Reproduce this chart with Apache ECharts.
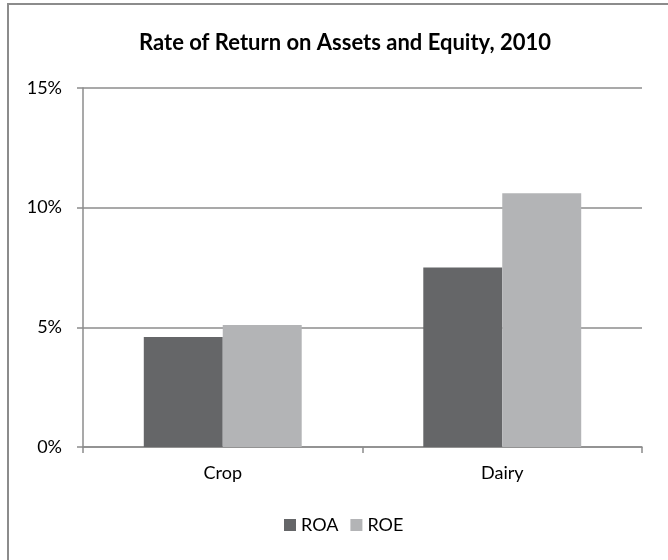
<!DOCTYPE html>
<html>
<head>
<meta charset="utf-8">
<script src="https://cdn.jsdelivr.net/npm/echarts@6/dist/echarts.min.js"></script>
<style>
  html, body { margin: 0; padding: 0; background: #fff; }
  #main { width: 668px; height: 560px; }
</style>
</head>
<body>
<div id="main"></div>
<script>
  // data
  var categories = ['Crop', 'Dairy'];
  var roa = [4.6, 7.5];
  var roe = [5.1, 10.6];
  var seriesNames = ['ROA', 'ROE'];

  var myChart = echarts.init(document.getElementById('main'));

  var font = 'Lato';
  var lineColor = '#8c8c8c';

  var option = {
    animation: false,
    backgroundColor: '#fff',
    textStyle: { fontFamily: font },
    graphic: [{
      // chart area frame (continues past the right/bottom edge)
      type: 'rect',
      shape: { x: 8, y: 4, width: 700, height: 600 },
      style: { fill: 'none', stroke: lineColor, lineWidth: 2 },
      silent: true
    }],
    title: {
      text: 'Rate of Return on Assets and Equity, 2010',
      left: 340,
      textAlign: 'center',
      top: 27,
      textStyle: { fontFamily: font, fontWeight: 'bold', fontSize: 22, color: '#000' }
    },
    legend: {
      data: seriesNames,
      left: 284,
      top: 516,
      padding: 0,
      itemWidth: 12,
      itemHeight: 12,
      itemGap: 12,
      icon: 'rect',
      textStyle: { fontFamily: font, fontSize: 18, color: '#000' }
    },
    grid: { left: 83, right: 26, top: 88, bottom: 113 },
    xAxis: {
      type: 'category',
      data: categories,
      axisLine: { lineStyle: { color: lineColor, width: 1.5 } },
      axisTick: { show: true, length: 6, lineStyle: { color: lineColor, width: 1.5 } },
      axisLabel: { fontFamily: font, fontSize: 18, color: '#000', margin: 17 }
    },
    yAxis: {
      type: 'value',
      min: 0,
      max: 15,
      interval: 5,
      axisLine: { show: true, lineStyle: { color: lineColor, width: 1.5 } },
      axisTick: { show: true, length: 6, lineStyle: { color: lineColor, width: 1.5 } },
      axisLabel: { fontFamily: font, fontSize: 18, color: '#000', margin: 21, formatter: '{value}%' },
      splitLine: { lineStyle: { color: lineColor, width: 1.5 } }
    },
    series: [{
      name: seriesNames[0],
      type: 'bar',
      data: roa,
      barGap: '0%',
      barCategoryGap: '43.5%',
      itemStyle: { color: '#656668' }
    }, {
      name: seriesNames[1],
      type: 'bar',
      data: roe,
      barGap: '0%',
      barCategoryGap: '43.5%',
      itemStyle: { color: '#b3b4b6' }
    }]
  };

  myChart.setOption(option);
</script>
</body>
</html>
